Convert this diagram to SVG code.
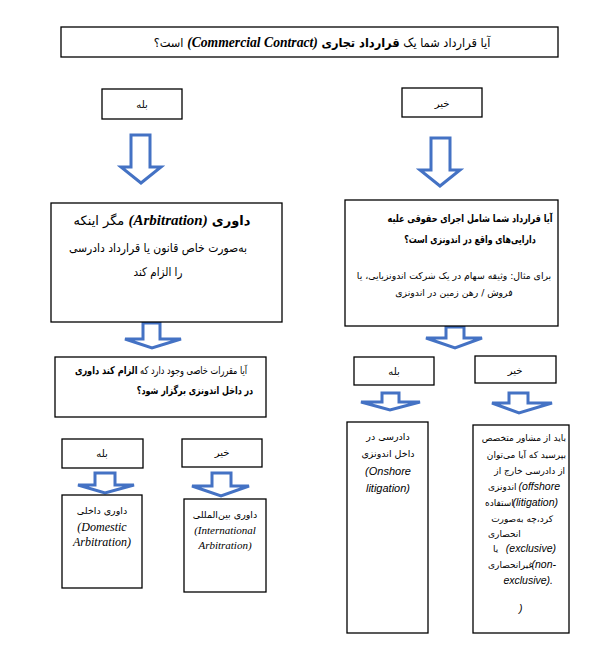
<svg xmlns="http://www.w3.org/2000/svg" width="591" height="645" viewBox="0 0 591 645">
<style>
.box{fill:#fff;stroke:#000;stroke-width:1.3}
.arrow{fill:#fff;stroke:#4472C4;stroke-width:3;stroke-linejoin:miter}
.fa{font-family:"DejaVu Sans",sans-serif;fill:#000}
.b{font-weight:bold}
.lbi{font-family:"Liberation Serif",serif;font-weight:bold;font-style:italic}
.li{font-family:"Liberation Serif",serif;font-style:italic}
.si{font-family:"Liberation Sans",sans-serif;font-style:italic}
</style>
<rect width="591" height="645" fill="#fff"/>
<g id="connectors">
<path class="arrow" d="M131,135 H150 V167 H161 L141,183 L121,167 H131 Z"/>
<path class="arrow" d="M431,138 H450 V170 H460 L440,186 L420,170 H431 Z"/>
<path class="arrow" d="M143,323 H160 V339 H181 L152,348 L125,339 H143 Z"/>
<path class="arrow" d="M446,327 H464 V338 H482 L455,348 L426,338 H446 Z"/>
<path class="arrow" d="M382,393 H399 V402 H420 L390,410 L361,402 H382 Z"/>
<path class="arrow" d="M509,393 H528 V403 H552 L519,413 L492,403 H509 Z"/>
<path class="arrow" d="M95,473 H115 V485 H134 L105,493 L78,485 H95 Z"/>
<path class="arrow" d="M212,473 H231 V486 H249 L221,496 L192,486 H212 Z"/>
</g>
<g id="title">
<rect class="box" x="61" y="27" width="497" height="30"/>
<text class="fa" transform="translate(322,47) scale(0.91,1)" direction="rtl" text-anchor="middle" font-size="12.5">آیا قرارداد شما یک <tspan class="b">قرارداد تجاری</tspan> <tspan class="lbi" font-size="15">(Commercial Contract)</tspan> است؟</text>
</g>
<g id="yes1">
<rect class="box" x="102" y="89" width="80" height="30"/>
<text class="fa" x="142" y="108" text-anchor="middle" font-size="10">بله</text>
</g>
<g id="no1">
<rect class="box" x="402" y="88" width="80" height="29"/>
<text class="fa" x="442" y="107" text-anchor="middle" font-size="10">خیر</text>
</g>
<g id="arbitration">
<rect class="box" x="51" y="203" width="231" height="119"/>
<text class="fa" transform="translate(162,225)" direction="rtl" text-anchor="middle" font-size="13"><tspan class="b">داوری</tspan> <tspan class="lbi" font-size="15">(Arbitration)</tspan> مگر اینکه</text>
<text class="fa" transform="translate(158,252) scale(0.9,1)" direction="rtl" text-anchor="middle" font-size="12">به‌صورت خاص قانون یا قرارداد دادرسی</text>
<text class="fa" transform="translate(158,276) scale(0.86,1)" direction="rtl" text-anchor="middle" font-size="12">را الزام کند</text>
</g>
<g id="enforcement">
<rect class="box" x="345" y="200" width="213" height="126"/>
<text class="fa b" transform="translate(470,222) scale(0.77,1)" direction="rtl" text-anchor="middle" font-size="10.5">آیا قرارداد شما شامل اجرای حقوقی علیه</text>
<text class="fa b" transform="translate(470,243) scale(0.75,1)" direction="rtl" text-anchor="middle" font-size="10.5">دارایی‌های واقع در اندونزی است؟</text>
<text class="fa" transform="translate(454,279)" direction="rtl" text-anchor="middle" font-size="9.3">برای مثال: وثیقه سهام در یک شرکت اندونزیایی، یا</text>
<text class="fa" transform="translate(454,296)" direction="rtl" text-anchor="middle" font-size="9.3">فروش / رهن زمین در اندونزی</text>
</g>
<g id="question">
<rect class="box" x="55" y="357" width="211" height="60"/>
<text class="fa" transform="translate(161,374) scale(0.78,1)" direction="rtl" text-anchor="middle" font-size="10.5">آیا مقررات خاصی وجود دارد که <tspan class="b">الزام کند داوری</tspan></text>
<text class="fa b" transform="translate(195,394) scale(0.76,1)" direction="rtl" text-anchor="middle" font-size="10.5">در داخل اندونزی برگزار شود؟</text>
</g>
<g id="yes2">
<rect class="box" x="354" y="357" width="80" height="28"/>
<text class="fa" x="394" y="375" text-anchor="middle" font-size="10">بله</text>
</g>
<g id="no2">
<rect class="box" x="475" y="356" width="81" height="27"/>
<text class="fa" x="515" y="374" text-anchor="middle" font-size="10">خیر</text>
</g>
<g id="onshore">
<rect class="box" x="347" y="422" width="81" height="211"/>
<text class="fa" x="388" y="440" text-anchor="middle" font-size="9.5">دادرسی در</text>
<text class="fa" x="388" y="457" text-anchor="middle" font-size="9.5">داخل اندونزی</text>
<text class="si" x="388" y="475" text-anchor="middle" font-size="11">(Onshore</text>
<text class="si" x="388" y="492" text-anchor="middle" font-size="11">litigation)</text>
</g>
<g id="offshore">
<rect class="box" x="473" y="425" width="96" height="208"/>
<text class="fa" x="566" y="441" direction="rtl" text-anchor="start" font-size="9">باید از مشاور متخصص</text>
<text class="fa" x="566" y="458" direction="rtl" text-anchor="start" font-size="9">بپرسید که  آیا می‌توان</text>
<text class="fa" x="565" y="474" direction="rtl" text-anchor="start" font-size="9">از دادرسی خارج از</text>
<text class="fa" x="488" y="490" font-size="9">اندونزی</text>
<text class="si" x="560" y="490" text-anchor="end" font-size="10.5">(offshore</text>
<text class="fa" x="485" y="506" font-size="9">استفاده</text>
<text class="si" x="558" y="506" text-anchor="end" font-size="10.5">(litigation)</text>
<text class="fa" x="553" y="522" direction="rtl" text-anchor="start" font-size="9">کرد،چه به‌صورت</text>
<text class="fa" x="488" y="537" font-size="9">انحصاری</text>
<text class="fa" x="493" y="552" font-size="9">یا</text>
<text class="si" x="556" y="552" text-anchor="end" font-size="10.5">(exclusive)</text>
<text class="fa" x="488" y="568" font-size="9">غیرانحصاری</text>
<text class="si" x="556" y="568" text-anchor="end" font-size="10.5">(non-</text>
<text class="si" x="553" y="584" text-anchor="end" font-size="10.5">exclusive).</text>
<text class="si" x="519" y="612" font-size="10.5">)</text>
</g>
<g id="yes3">
<rect class="box" x="62" y="439" width="81" height="29"/>
<text class="fa" x="102" y="457" text-anchor="middle" font-size="10">بله</text>
</g>
<g id="no3">
<rect class="box" x="182" y="439" width="80" height="28"/>
<text class="fa" x="222" y="456" text-anchor="middle" font-size="10">خیر</text>
</g>
<g id="domestic">
<rect class="box" x="62" y="495" width="80" height="93"/>
<text class="fa" x="102" y="514" text-anchor="middle" font-size="9.5">داوری داخلی</text>
<text class="li" x="102" y="531" text-anchor="middle" font-size="12">(Domestic</text>
<text class="li" x="102" y="546" text-anchor="middle" font-size="12">Arbitration)</text>
</g>
<g id="international">
<rect class="box" x="184" y="499" width="82" height="93"/>
<text class="fa" x="225" y="518" text-anchor="middle" font-size="9.5">داوری بین‌المللی</text>
<text class="li" x="225" y="534" text-anchor="middle" font-size="11">(International</text>
<text class="li" x="225" y="549" text-anchor="middle" font-size="11">Arbitration)</text>
</g>
</svg>
